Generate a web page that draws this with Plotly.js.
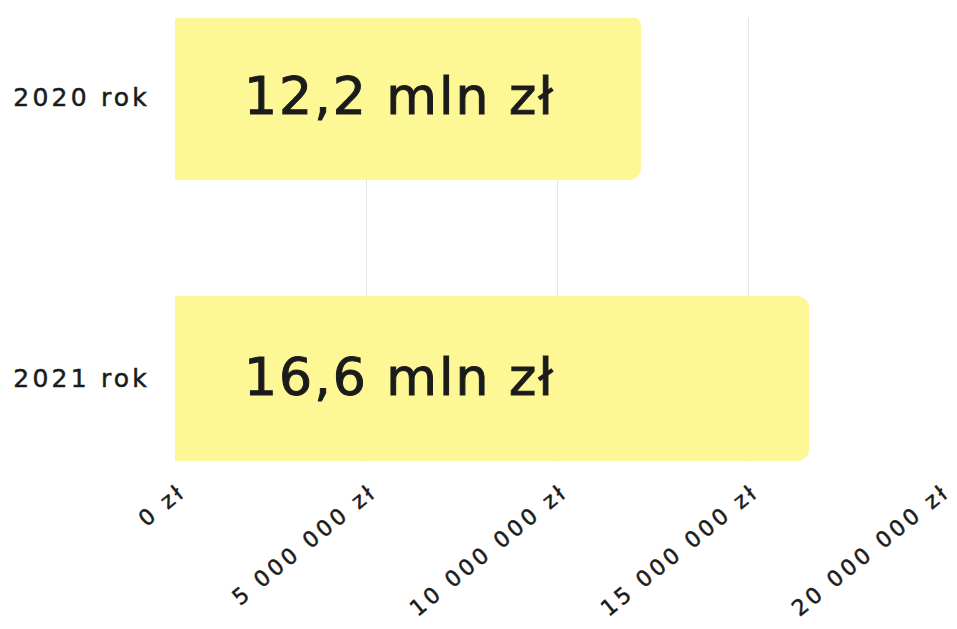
<!DOCTYPE html>
<html><head><meta charset="utf-8">
<script src="https://cdn.plot.ly/plotly-3.0.1.min.js"></script>
<style>
html,body{margin:0;padding:0;background:#fff}
#chart{width:957px;height:629px}
#chart .xtick text{letter-spacing:3.4px;paint-order:stroke;stroke:#1b1b1b;stroke-width:0.5px}
#chart .ytick text{letter-spacing:3.2px;paint-order:stroke;stroke:#1b1b1b;stroke-width:0.5px}
#chart .annotation-text{letter-spacing:2px;paint-order:stroke;stroke:#1b1b1b;stroke-width:1px}
</style>
</head><body><div id="chart"></div>
<script>
const categories = ["2020 rok", "2021 rok"];
const values = [12200000, 16600000];
const barLabels = ["12,2 mln zł", "16,6 mln zł"];
const tickValues = [0, 5000000, 10000000, 15000000, 20000000];
const tickLabels = ["0 zł", "5 000 000 zł", "10 000 000 zł", "15 000 000 zł", "20 000 000 zł"];

const FONT = "DejaVu Sans, sans-serif";
const trace = {
  type: "bar",
  orientation: "h",
  y: categories,
  x: values,
  marker: {color: "#fdf796", cornerradius: 12, line: {width: 0}},
  hoverinfo: "none"
};
const annotations = categories.map((c, i) => ({
  x: 0, y: c, xref: "x", yref: "y",
  text: barLabels[i], showarrow: false,
  xanchor: "left", yanchor: "middle", xshift: 78, yshift: 2,
  font: {family: FONT, size: 52, color: "#1b1b1b"}
}));
const layout = {
  width: 957, height: 629,
  margin: {l: 175, r: 18, t: 18, b: 167},
  paper_bgcolor: "#fff", plot_bgcolor: "#fff",
  showlegend: false,
  bargap: 0.413,
  font: {family: FONT, color: "#1b1b1b"},
  xaxis: {
    range: [0, 20000000], tickmode: "array", tickvals: tickValues, ticktext: tickLabels,
    tickangle: -39, showgrid: true, gridcolor: "#e6e6e6", gridwidth: 1,
    zeroline: false, showline: false, ticks: "", automargin: false,
    ticklabelstandoff: 12, ticklabelshift: 5, ticklabeloverflow: "allow",
    tickfont: {family: FONT, size: 22, color: "#1b1b1b"}
  },
  yaxis: {
    type: "category", range: [1.297, -0.283], showgrid: false, zeroline: false,
    showline: false, ticks: "", ticklabelstandoff: 24, automargin: false,
    tickfont: {family: FONT, size: 25, color: "#1b1b1b"}
  },
  annotations: annotations
};
Plotly.newPlot("chart", [trace], layout, {displayModeBar: false, staticPlot: true});
</script></body></html>
